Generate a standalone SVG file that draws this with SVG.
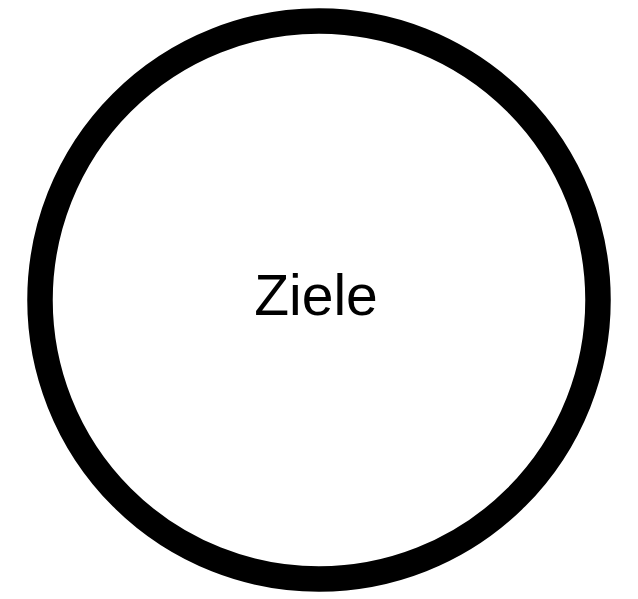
<svg xmlns="http://www.w3.org/2000/svg" width="638" height="599" viewBox="0 0 638 599">
<style>
.node-shape{fill:#ffffff;stroke:#000000;stroke-width:25.5}
.node-label{font-family:"Liberation Sans",Arial,sans-serif;font-size:57px;fill:#000000;text-anchor:middle}
</style>
<rect width="638" height="599" fill="#ffffff"/>
<g id="connectors"></g>
<g id="node-ziele">
<circle class="node-shape" cx="319" cy="300" r="279"/>
<text class="node-label" x="316" y="315">Ziele</text>
</g>
</svg>
